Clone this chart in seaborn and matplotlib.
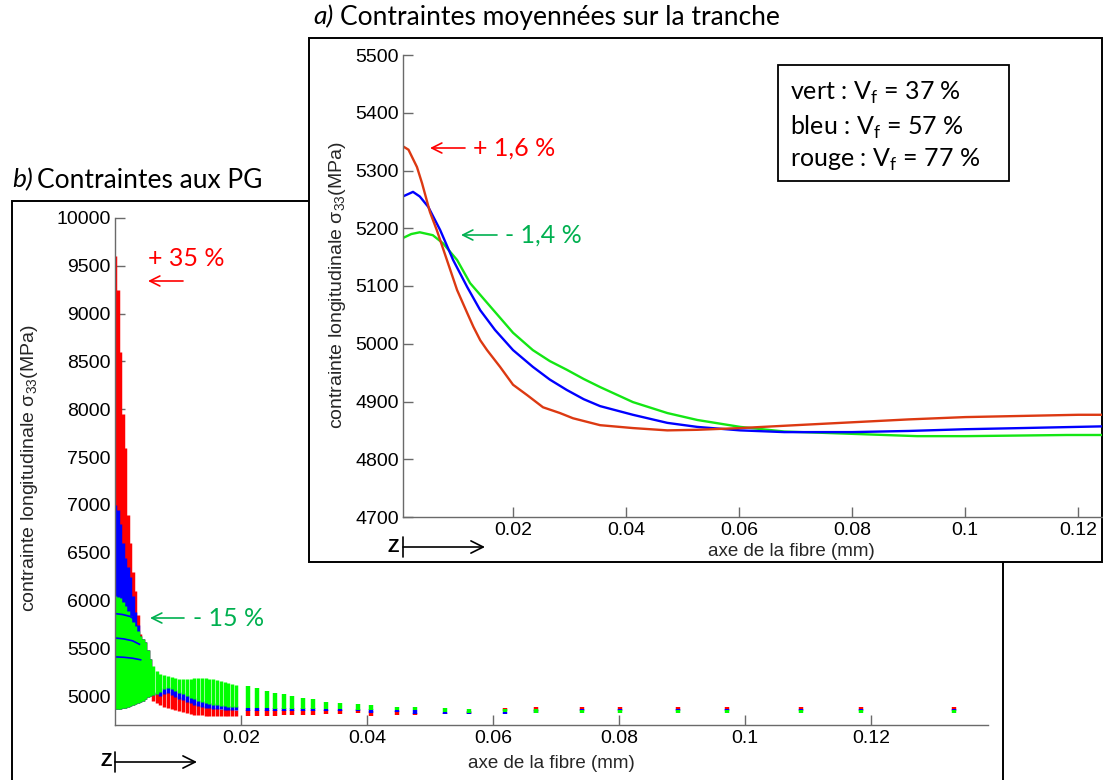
import matplotlib
matplotlib.use('Agg')
import pandas as pd
import matplotlib.pyplot as plt
from matplotlib.patches import Rectangle, ArrowStyle
from matplotlib.ticker import FuncFormatter
import seaborn as sns

# ---------------- a) contraintes moyennees sur la tranche ----------------
red_x = [0.0005, 0.0015, 0.0030, 0.0039, 0.0053, 0.0065, 0.0083, 0.0101, 0.0119, 0.0130,
         0.0142, 0.0154, 0.0177, 0.0200, 0.0225, 0.0253, 0.0283, 0.0306, 0.0354, 0.0412,
         0.0473, 0.0526, 0.0602, 0.0700, 0.0800, 0.0900, 0.1000, 0.1100, 0.1200, 0.1245]
red_y = [5342, 5336, 5306, 5278, 5228, 5197, 5145, 5093, 5053, 5029,
         5006, 4989, 4960, 4929, 4911, 4890, 4880, 4871, 4859, 4854,
         4850, 4851, 4854, 4859, 4864, 4869, 4873, 4875, 4877, 4877]

blue_x = [0.0005, 0.0023, 0.0035, 0.0050, 0.0071, 0.0094, 0.0119, 0.0142, 0.0168, 0.0200,
          0.0235, 0.0265, 0.0295, 0.0325, 0.0354, 0.0412, 0.0473, 0.0526, 0.0602, 0.0680,
          0.0800, 0.0900, 0.1000, 0.1100, 0.1245]
blue_y = [5255, 5263, 5255, 5237, 5197, 5145, 5098, 5058, 5024, 4989,
          4960, 4938, 4920, 4904, 4892, 4877, 4863, 4856, 4850, 4847,
          4847, 4849, 4852, 4854, 4857]

green_x = [0.0005, 0.0020, 0.0035, 0.0058, 0.0076, 0.0101, 0.0124, 0.0154, 0.0200, 0.0235,
           0.0265, 0.0295, 0.0325, 0.0354, 0.0412, 0.0473, 0.0526, 0.0602, 0.0680, 0.0800,
           0.0915, 0.1000, 0.1180, 0.1245]
green_y = [5183, 5190, 5193, 5188, 5174, 5145, 5105, 5071, 5019, 4989,
           4970, 4955, 4939, 4925, 4899, 4880, 4868, 4856, 4848, 4844,
           4840, 4840, 4842, 4842]

# ---------------- b) contraintes aux points de Gauss ----------------
# one column of Gauss points per abscissa: [lo, hi] for each Vf
# first 38 columns: packed block near z = 0, then isolated columns
col_x = [0.0000, 0.0004, 0.0008, 0.0012, 0.0016, 0.0020, 0.0024, 0.0028, 0.0032, 0.0036,
         0.0040, 0.0044, 0.0048, 0.0052, 0.0056,
         0.0060, 0.0066, 0.0072, 0.0078, 0.0084, 0.0090, 0.0096, 0.0102, 0.0108, 0.0114,
         0.0120, 0.0126, 0.0132, 0.0138, 0.0144, 0.0150, 0.0156, 0.0162, 0.0168, 0.0174,
         0.0180, 0.0186, 0.0192,
         0.0211, 0.0225, 0.0241, 0.0254, 0.0269, 0.0281, 0.0299, 0.0314, 0.0335, 0.0357,
         0.0385, 0.0407, 0.0448, 0.0476, 0.0524, 0.0562, 0.0619, 0.0668, 0.0741, 0.0802,
         0.0894, 0.0971, 0.1089, 0.1184, 0.1332]
n_packed = 38

green_hi = [6050, 6040, 6027, 5990, 5940, 5890, 5835, 5780, 5731, 5680,
            5626, 5595, 5564, 5480, 5390,
            5317, 5265, 5230, 5219, 5212, 5205, 5195, 5184, 5177, 5177,
            5184, 5191, 5195, 5195, 5191, 5184, 5177, 5170, 5160, 5150,
            5143, 5132, 5122,
            5108, 5091, 5056, 5038, 5021, 5003, 4986, 4969, 4941, 4934,
            4916, 4906, 4892, 4889, 4882, 4871, 4864, 4864, 4852, 4852,
            4857, 4852, 4852, 4852, 4852]
green_lo = [4864, 4866, 4870, 4876, 4882, 4888, 4896, 4905, 4915, 4928,
            4940, 4955, 4970, 4990, 5005,
            5010, 5021, 5045, 5073, 5091, 5073, 5056, 5038, 5021, 5003,
            4986, 4969, 4955, 4941, 4930, 4920, 4913, 4906, 4899, 4896,
            4892, 4889, 4885,
            4875, 4875, 4875, 4871, 4871, 4871, 4871, 4871, 4864, 4864,
            4858, 4862, 4854, 4857, 4836, 4830, 4832, 4826, 4822, 4822,
            4826, 4822, 4822, 4822, 4822]

blue_hi = [7000, 6950, 6800, 6600, 6450, 6350, 6250, 6050, 5880, 5750,
           5630, 5595, 5564, 5480, 5390,
           5030, 5040, 5060, 5085, 5100, 5085, 5070, 5050, 5035, 5015,
           5000, 4980, 4965, 4950, 4940, 4930, 4925, 4915, 4910, 4905,
           4900, 4900, 4895,
           4880, 4880, 4880, 4876, 4876, 4876, 4876, 4876, 4870, 4870,
           4864, 4866, 4858, 4857, 4840, 4847, 4840, 4852, 4866, 4866,
           4871, 4868, 4868, 4868, 4868]
blue_lo = [4864, 4866, 4870, 4876, 4882, 4888, 4896, 4905, 4915, 4928,
           4940, 4955, 4970, 4990, 5005,
           5010, 5021, 5003, 5021, 5031, 5010, 4993, 4976, 4958, 4941,
           4927, 4913, 4899, 4889, 4882, 4875, 4871, 4868, 4864, 4861,
           4858, 4858, 4854,
           4845, 4845, 4845, 4845, 4845, 4845, 4845, 4845, 4845, 4845,
           4843, 4823, 4838, 4817, 4817, 4817, 4810, 4828, 4845, 4845,
           4848, 4848, 4848, 4848, 4848]

red_hi = [9600, 9250, 8600, 7950, 7600, 6900, 6600, 6300, 6100, 5850,
          5650, 5595, 5564, 5480, 5390,
          5020, 5030, 5020, 5030, 5040, 5020, 5000, 4990, 4970, 4950,
          4940, 4925, 4910, 4900, 4890, 4885, 4880, 4875, 4870, 4870,
          4865, 4865, 4860,
          4855, 4855, 4855, 4855, 4855, 4855, 4855, 4855, 4855, 4855,
          4855, 4843, 4843, 4830, 4830, 4840, 4874, 4886, 4888, 4888,
          4892, 4892, 4892, 4892, 4892]
red_lo = [4864, 4866, 4870, 4876, 4882, 4888, 4896, 4905, 4915, 4928,
          4940, 4955, 4970, 4990, 5005,
          4951, 4934, 4906, 4889, 4875, 4864, 4854, 4843, 4833, 4823,
          4816, 4809, 4806, 4802, 4799, 4795, 4795, 4795, 4795, 4795,
          4795, 4795, 4792,
          4792, 4792, 4797, 4797, 4800, 4808, 4808, 4808, 4815, 4815,
          4826, 4789, 4808, 4808, 4812, 4817, 4845, 4850, 4855, 4860,
          4861, 4862, 4862, 4862, 4862]

# blue streaks seen inside the green block near z = 0
arc_id = [0, 0, 0, 0, 1, 1, 1, 1, 2, 2, 2, 2]
arc_x = [0.0000, 0.0012, 0.0024, 0.0032, 0.0000, 0.0014, 0.0028, 0.0040, 0.0000, 0.0014, 0.0028, 0.0042]
arc_y = [5865, 5855, 5835, 5800, 5610, 5600, 5580, 5540, 5412, 5408, 5398, 5380]

legend_lines = [r'vert : V$_{\mathsf{f}}$ = 37 %', r'bleu : V$_{\mathsf{f}}$ = 57 %',
                r'rouge : V$_{\mathsf{f}}$ = 77 %']

sns.set_theme(style='ticks')
plt.rcParams['font.family'] = ['Liberation Sans', 'DejaVu Sans']
plt.rcParams['mathtext.fontset'] = 'custom'
plt.rcParams['mathtext.rm'] = 'Liberation Sans'
plt.rcParams['mathtext.it'] = 'Liberation Sans'
plt.rcParams['mathtext.sf'] = 'Lato'
plt.rcParams['lines.solid_capstyle'] = 'butt'
plt.rcParams['text.color'] = 'black'

W, H = 1103, 780
fig = plt.figure(figsize=(W / 100, H / 100), dpi=100)
fig.patch.set_facecolor('white')


def fx(px):
    return px / W


def fy(py):
    return 1 - py / H


AXC = '#6a6a6a'
RED_TXT = '#ff0000'
GREEN_TXT = '#00b050'
TICK_FS = 14


def style_axis(ax):
    sns.despine(ax=ax)
    ax.set_facecolor('none')
    for s in ['left', 'bottom']:
        ax.spines[s].set_color(AXC)
        ax.spines[s].set_linewidth(1.0)
    ax.tick_params(direction='in', length=7, width=1, color=AXC, labelsize=TICK_FS,
                   labelcolor='black', left=True, bottom=True)
    ax.tick_params(axis='y', pad=3)
    ax.tick_params(axis='x', pad=3.5)
    ax.xaxis.set_major_formatter(FuncFormatter(lambda v, p: f'{v:g}'))


# frames
frame_b = Rectangle((fx(12), fy(800)), fx(1003) - fx(12), fy(201) - fy(800), transform=fig.transFigure,
                    facecolor='white', edgecolor='black', linewidth=1.4, zorder=0.5)
fig.add_artist(frame_b)
frame_a = Rectangle((fx(309), fy(562)), fx(1102) - fx(309), fy(38) - fy(562), transform=fig.transFigure,
                    facecolor='white', edgecolor='black', linewidth=1.4, zorder=2)
fig.add_artist(frame_a)

# -------- panel b --------
ax_b = fig.add_axes([fx(115), fy(725), fx(988) - fx(115), fy(218) - fy(725)])
ax_b.set_zorder(1)
rows = []
for i, x in enumerate(col_x):
    for serie, lo, hi in [('rouge', red_lo, red_hi), ('bleu', blue_lo, blue_hi), ('vert', green_lo, green_hi)]:
        rows.append({'x': x, 'y': lo[i], 'serie': serie, 'col': i})
        rows.append({'x': x, 'y': hi[i], 'serie': serie, 'col': i})
df_b = pd.DataFrame(rows)
pal_b = {'rouge': '#ff0000', 'bleu': '#0000ff', 'vert': '#00ff00'}
sns.lineplot(data=df_b[df_b['col'] < n_packed], x='x', y='y', hue='serie', units='col',
             estimator=None, sort=False, hue_order=['rouge', 'bleu', 'vert'], palette=pal_b,
             linewidth=2.5, legend=False, ax=ax_b)
sns.lineplot(data=df_b[df_b['col'] >= n_packed], x='x', y='y', hue='serie', units='col',
             estimator=None, sort=False, hue_order=['rouge', 'bleu', 'vert'], palette=pal_b,
             linewidth=3.2, legend=False, ax=ax_b)
df_arc = pd.DataFrame({'x': arc_x, 'y': arc_y, 'arc': arc_id})
sns.lineplot(data=df_arc, x='x', y='y', units='arc', estimator=None, sort=False,
             color='#0000ff', linewidth=1.2, legend=False, ax=ax_b)
ax_b.set_xlim(0, 0.1386)
ax_b.set_ylim(4700, 10000)
ax_b.set_xticks([0.02, 0.04, 0.06, 0.08, 0.1, 0.12])
ax_b.set_yticks(range(5000, 10001, 500))
style_axis(ax_b)
ax_b.set_xlabel('axe de la fibre (mm)', fontsize=13.5)
ax_b.xaxis.label.set_va('center')
ax_b.xaxis.set_label_coords(0.5, (725 - 763) / 507)
ax_b.set_ylabel(r'contrainte longitudinale $\sigma_{33}$(MPa)', fontsize=14)
ax_b.yaxis.label.set_va('center')
ax_b.yaxis.set_label_coords((30 - 115) / 873, (725 - 468) / 507)

# -------- panel a --------
ax_a = fig.add_axes([fx(403), fy(517), fx(1102) - fx(403), fy(55) - fy(517)])
ax_a.set_zorder(3)
df_a = pd.concat([
    pd.DataFrame({'x': green_x, 'y': green_y, 'serie': 'vert'}),
    pd.DataFrame({'x': blue_x, 'y': blue_y, 'serie': 'bleu'}),
    pd.DataFrame({'x': red_x, 'y': red_y, 'serie': 'rouge'}),
], ignore_index=True)
sns.lineplot(data=df_a, x='x', y='y', hue='serie', estimator=None, sort=False,
             hue_order=['vert', 'bleu', 'rouge'],
             palette={'rouge': '#dc3912', 'bleu': '#0000ff', 'vert': '#14e614'},
             linewidth=1.7, legend=False, ax=ax_a)
ax_a.set_xlim(0.00053, 0.1242)
ax_a.set_ylim(4700, 5500)
ax_a.set_xticks([0.02, 0.04, 0.06, 0.08, 0.1, 0.12])
ax_a.set_yticks(range(4700, 5501, 100))
style_axis(ax_a)
ax_a.set_xlabel('axe de la fibre (mm)', fontsize=13.5)
ax_a.xaxis.label.set_va('center')
ax_a.xaxis.set_label_coords((791 - 403) / 699, (517 - 551) / 462)
ax_a.set_ylabel(r'contrainte longitudinale $\sigma_{33}$(MPa)', fontsize=14)
ax_a.yaxis.label.set_va('center')
ax_a.yaxis.set_label_coords((337 - 403) / 699, (517 - 285) / 462)

# legend box
box = Rectangle((fx(778), fy(181)), fx(1009) - fx(778), fy(65) - fy(181), transform=fig.transFigure,
                facecolor='white', edgecolor='black', linewidth=1.3, zorder=6)
fig.add_artist(box)
for line, py in zip(legend_lines, [93, 127, 160]):
    fig.text(fx(790), fy(py), line, family='Lato', fontsize=18, va='center', ha='left', zorder=7)

# titles
fig.text(fx(313), fy(17), 'a)', family='Lato', fontstyle='italic', fontsize=19, va='center', zorder=7)
fig.text(fx(340), fy(17), 'Contraintes moyennées sur la tranche', family='Lato', fontsize=19,
         va='center', zorder=7)
fig.text(fx(12), fy(180), 'b)', family='Lato', fontstyle='italic', fontsize=19, va='center', zorder=7)
fig.text(fx(37), fy(180), 'Contraintes aux PG', family='Lato', fontsize=19, va='center', zorder=7)


# percentage annotations
def note(ax, text, color, tx, ty, x0, x1, ay):
    ax.text(fx(tx), fy(ty), text, transform=fig.transFigure, color=color, family='Lato',
            fontsize=18, va='center', ha='left')
    ax.annotate('', xy=(fx(x1), fy(ay)), xytext=(fx(x0), fy(ay)), xycoords='figure fraction',
                textcoords='figure fraction', annotation_clip=False,
                arrowprops=dict(arrowstyle=ArrowStyle('->', head_length=0.72, head_width=0.36),
                                color=color, lw=1.2, mutation_scale=10, shrinkA=0, shrinkB=0))


note(ax_a, '+ 1,6 %', RED_TXT, 473, 148, 465, 430, 148)
note(ax_a, '- 1,4 %', GREEN_TXT, 505, 235, 497, 461, 235)
note(ax_b, '+ 35 %', RED_TXT, 148, 258, 183, 148, 281)
note(ax_b, '- 15 %', GREEN_TXT, 193, 618, 184, 150, 618)


# z direction arrows
def z_arrow(ax, zx, y, x0, x1):
    ax.text(fx(zx), fy(y), 'Z', transform=fig.transFigure, fontsize=13.5, fontweight='bold',
            ha='right', va='center')
    ax.annotate('', xy=(fx(x1), fy(y)), xytext=(fx(x0), fy(y)), xycoords='figure fraction',
                textcoords='figure fraction', annotation_clip=False,
                arrowprops=dict(arrowstyle=ArrowStyle(']->', widthA=0.33, lengthA=0),
                                color='black', lw=1.2, mutation_scale=22, shrinkA=0, shrinkB=0))


z_arrow(ax_b, 112, 762, 115, 197)
z_arrow(ax_a, 399, 547, 403, 485)

fig.savefig('out.png', dpi=100, facecolor='white')
